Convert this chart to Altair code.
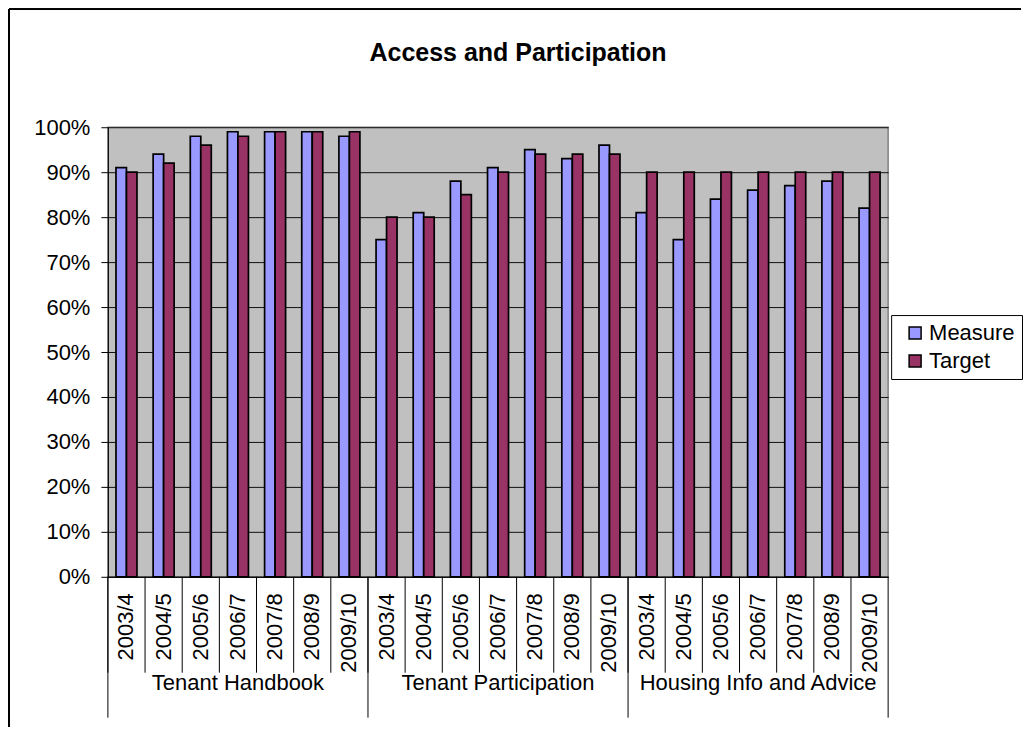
import altair as alt
import pandas as pd

groups = ["Tenant Handbook", "Tenant Participation", "Housing Info and Advice"]
years = ["2003/4", "2004/5", "2005/6", "2006/7", "2007/8", "2008/9", "2009/10"]

measure_handbook = [0.91, 0.94, 0.98, 0.99, 0.99, 0.99, 0.98]
target_handbook = [0.90, 0.92, 0.96, 0.98, 0.99, 0.99, 0.99]
measure_participation = [0.75, 0.81, 0.88, 0.91, 0.95, 0.93, 0.96]
target_participation = [0.80, 0.80, 0.85, 0.90, 0.94, 0.94, 0.94]
measure_housing = [0.81, 0.75, 0.84, 0.86, 0.87, 0.88, 0.82]
target_housing = [0.90, 0.90, 0.90, 0.90, 0.90, 0.90, 0.90]

series_names = ["Measure", "Target"]
series_colors = ["#9999FF", "#993366"]
y_ticks = [0, 0.1, 0.2, 0.3, 0.4, 0.5, 0.6, 0.7, 0.8, 0.9, 1.0]

measures = [measure_handbook, measure_participation, measure_housing]
targets = [target_handbook, target_participation, target_housing]

rows = []
keys = []
for g, mvals, tvals in zip(groups, measures, targets):
    for yr, m, t in zip(years, mvals, tvals):
        k = f"{g}|{yr}"
        keys.append(k)
        rows.append({"key": k, "group": g, "year": yr, "series": "Measure", "value": m})
        rows.append({"key": k, "group": g, "year": yr, "series": "Target", "value": t})
df = pd.DataFrame(rows)

ticks_df = pd.DataFrame({"key": keys})
group_start_df = pd.DataFrame({"key": [f"{g}|{years[0]}" for g in groups]})
group_end_df = pd.DataFrame({"key": [f"{groups[-1]}|{years[-1]}"]})
group_label_df = pd.DataFrame({"key": [f"{g}|{years[3]}" for g in groups], "group": groups})

FONT = "Liberation Sans"
xscale = alt.Scale(paddingInner=0, paddingOuter=0)


def xaxis():
    return alt.Axis(title=None, labelExpr="split(datum.value, '|')[1]",
                    labelAngle=270, labelAlign="right", labelBaseline="middle",
                    labelPadding=16, labelFontSize=22, labelColor="black",
                    labelOverlap=False, labelLimit=0, labelFont=FONT,
                    ticks=False, domainColor="black", domainWidth=1, grid=False)


bars = alt.Chart(df).mark_bar(stroke="black", strokeWidth=1.7).encode(
    x=alt.X("key:N", sort=keys, scale=xscale, axis=xaxis()),
    xOffset=alt.XOffset("series:N", sort=series_names,
                        scale=alt.Scale(paddingInner=0, paddingOuter=0.77)),
    y=alt.Y("value:Q", scale=alt.Scale(domain=[0, 1], nice=False),
            axis=alt.Axis(title=None, values=y_ticks, format=".0%", labelFontSize=22,
                          labelColor="black", labelPadding=11, tickSize=7, tickColor="black",
                          domainColor="black", grid=True, gridColor="#111111", gridWidth=1)),
    color=alt.Color("series:N", sort=series_names,
                    scale=alt.Scale(domain=series_names, range=series_colors),
                    legend=alt.Legend(title=None, orient="none", legendX=784, legendY=188,
                                      strokeColor="black", padding=7, fillColor="white",
                                      symbolType="square", symbolSize=144,
                                      symbolStrokeColor="black", symbolStrokeWidth=1.5,
                                      symbolOffset=6, labelOffset=3,
                                      labelFontSize=22, labelColor="black", rowPadding=6)),
)

year_ticks = alt.Chart(ticks_df).mark_rule(color="black", strokeWidth=1).encode(
    x=alt.X("key:N", sort=keys, bandPosition=0, scale=xscale, axis=xaxis()),
    y=alt.value(450), y2=alt.value(546),
)

group_starts = alt.Chart(group_start_df).mark_rule(color="black", strokeWidth=1).encode(
    x=alt.X("key:N", sort=keys, bandPosition=0, scale=xscale, axis=xaxis()),
    y=alt.value(450), y2=alt.value(591),
)
group_end = alt.Chart(group_end_df).mark_rule(color="black", strokeWidth=1).encode(
    x=alt.X("key:N", sort=keys, bandPosition=1, scale=xscale, axis=xaxis()),
    y=alt.value(450), y2=alt.value(591),
)

group_labels = alt.Chart(group_label_df).mark_text(
    fontSize=22, color="black", baseline="middle", align="center", font=FONT
).encode(
    x=alt.X("key:N", sort=keys, bandPosition=0.5, scale=xscale, axis=xaxis()),
    y=alt.value(556),
    text="group:N",
)

border_left = alt.Chart(ticks_df).mark_rule(color="black", strokeWidth=1).encode(
    x=alt.value(-99), y=alt.value(-118), y2=alt.value(600)
)
border_top = alt.Chart(ticks_df).mark_rule(color="black", strokeWidth=1).encode(
    x=alt.value(-99), x2=alt.value(914), y=alt.value(-118)
)

chart = alt.layer(
    bars, year_ticks, group_starts, group_end, group_labels, border_left, border_top
).properties(
    width=781, height=450, padding=0,
    title=alt.TitleParams("Access and Participation", fontSize=25, fontWeight="bold",
                          font=FONT, color="black", anchor="middle", offset=0, dx=20, dy=57),
).configure(
    font=FONT,
).configure_view(
    fill="#C0C0C0", stroke="#808080", strokeWidth=1.5,
)

chart.save("out.html", embed_options={"renderer": "svg", "actions": False})
